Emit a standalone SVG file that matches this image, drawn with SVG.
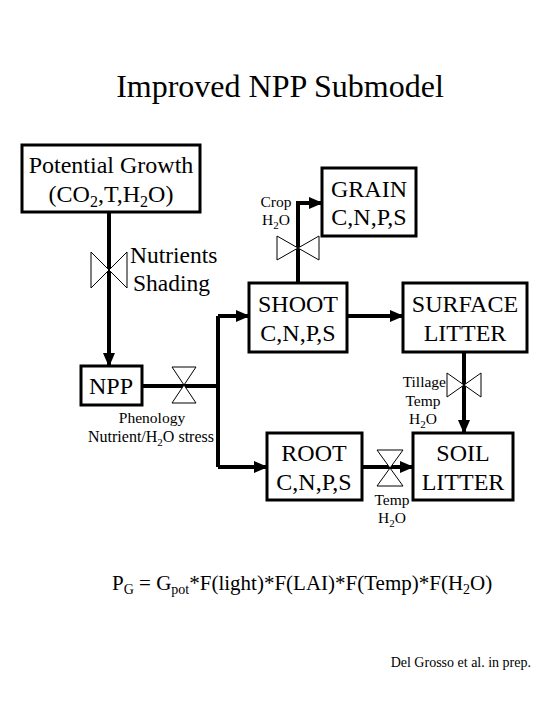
<svg xmlns="http://www.w3.org/2000/svg" width="540" height="720" viewBox="0 0 540 720" font-family="'Liberation Serif', 'Times New Roman', serif">
<style>
.box{fill:#fff;stroke:#000;stroke-width:3}
.big{font-size:24px;text-anchor:middle}
.sm{font-size:15.5px}
.ln{fill:none;stroke:#000;stroke-width:4}
.valve{fill:#fff;stroke:#000;stroke-width:1}
</style>
<defs>
<marker id="ah" markerUnits="userSpaceOnUse" markerWidth="14" markerHeight="12" refX="13" refY="6" orient="auto">
<path d="M0,0 L14,6 L0,12 Z" fill="#000"/>
</marker>
</defs>
<rect width="540" height="720" fill="#fff"/>
<text x="280" y="97" font-size="32" text-anchor="middle">Improved NPP Submodel</text>

<g id="connectors">
<path class="ln" d="M109,212 V366" marker-end="url(#ah)"/>
<path class="ln" d="M142,386 H218"/>
<path class="ln" d="M218,316 V467"/>
<path class="ln" d="M218,316 H249" marker-end="url(#ah)"/>
<path class="ln" d="M218,467 H267" marker-end="url(#ah)"/>
<path class="ln" d="M298,283 V203 H322" marker-end="url(#ah)"/>
<path class="ln" d="M347,316 H403" marker-end="url(#ah)"/>
<path class="ln" d="M464,352 V433" marker-end="url(#ah)"/>
<path class="ln" d="M362,467 H413" marker-end="url(#ah)"/>
</g>

<g id="valve-nutrients">
<path class="valve" d="M91,252 L109,270 L91,288 Z M127,252 L109,270 L127,288 Z"/>
<text x="130" y="263" font-size="23.5">Nutrients</text>
<text x="133" y="291" font-size="23.5">Shading</text>
</g>
<g id="valve-npp">
<path class="valve" d="M172,367 L184,385 L196,367 Z M172,403 L184,385 L196,403 Z"/>
<text x="152" y="423" class="sm" text-anchor="middle">Phenology</text>
<text x="151" y="442" font-size="16" text-anchor="middle">Nutrient/H<tspan font-size="11" dy="4">2</tspan><tspan dy="-4">O stress</tspan></text>
</g>
<g id="valve-crop">
<path class="valve" d="M277,236 L298,248 L277,260 Z M319,236 L298,248 L319,260 Z"/>
<text x="276" y="207" class="sm" text-anchor="middle">Crop</text>
<text x="276" y="225" class="sm" text-anchor="middle">H<tspan font-size="11" dy="4">2</tspan><tspan dy="-4">O</tspan></text>
</g>
<g id="valve-tillage">
<path class="valve" d="M447,373 L464,385 L447,397 Z M481,373 L464,385 L481,397 Z"/>
<text x="446" y="387" class="sm" text-anchor="end">Tillage</text>
<text x="423" y="406" class="sm" text-anchor="middle">Temp</text>
<text x="423" y="424" class="sm" text-anchor="middle">H<tspan font-size="11" dy="4">2</tspan><tspan dy="-4">O</tspan></text>
</g>
<g id="valve-root">
<path class="valve" d="M377,450 L390,468 L403,450 Z M377,486 L390,468 L403,486 Z"/>
<text x="392" y="505" class="sm" text-anchor="middle">Temp</text>
<text x="392" y="523" class="sm" text-anchor="middle">H<tspan font-size="11" dy="4">2</tspan><tspan dy="-4">O</tspan></text>
</g>

<g id="potential-growth">
<rect class="box" x="22" y="145" width="178" height="67"/>
<text x="111" y="173" class="big">Potential Growth</text>
<text x="111" y="202" class="big">(CO<tspan font-size="16" dy="5">2</tspan><tspan dy="-5">,T,H</tspan><tspan font-size="16" dy="5">2</tspan><tspan dy="-5">O)</tspan></text>
</g>
<g id="npp">
<rect class="box" x="81" y="366" width="61" height="39"/>
<text x="111" y="394" class="big">NPP</text>
</g>
<g id="grain">
<rect class="box" x="322" y="168" width="94" height="68"/>
<text x="369" y="197" class="big">GRAIN</text>
<text x="369" y="225" class="big">C,N,P,S</text>
</g>
<g id="shoot">
<rect class="box" x="249" y="283" width="98" height="69"/>
<text x="298" y="312" class="big">SHOOT</text>
<text x="298" y="341" class="big">C,N,P,S</text>
</g>
<g id="surface-litter">
<rect class="box" x="403" y="283" width="124" height="69"/>
<text x="465" y="312" class="big">SURFACE</text>
<text x="465" y="341" class="big">LITTER</text>
</g>
<g id="root">
<rect class="box" x="267" y="433" width="95" height="67"/>
<text x="314" y="461" class="big">ROOT</text>
<text x="314" y="490" class="big">C,N,P,S</text>
</g>
<g id="soil-litter">
<rect class="box" x="413" y="433" width="100" height="67"/>
<text x="463" y="461" class="big">SOIL</text>
<text x="463" y="490" class="big">LITTER</text>
</g>

<text x="112" y="590" font-size="21">P<tspan font-size="14" dy="4">G</tspan><tspan dy="-4"> = G</tspan><tspan font-size="14" dy="4">pot</tspan><tspan dy="-4">*F(light)*F(LAI)*F(Temp)*F(H</tspan><tspan font-size="14" dy="4">2</tspan><tspan dy="-4">O)</tspan></text>
<text x="531" y="667" font-size="14" text-anchor="end">Del Grosso et al. in prep.</text>
</svg>
